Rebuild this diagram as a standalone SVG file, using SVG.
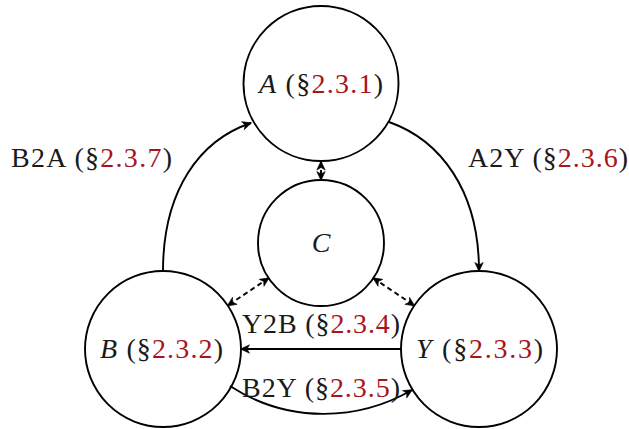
<svg xmlns="http://www.w3.org/2000/svg" width="629" height="429" viewBox="0 0 629 429">
<style>
.node{fill:none;stroke:#000;stroke-width:1.9}
.lbl{font-family:"Liberation Serif","Times New Roman",serif;font-size:28px;fill:#1a1a1a}
.v{font-style:italic}
.r{fill:#a8141c}
.edge{fill:none;stroke:#000;stroke-width:1.9}
.dash{stroke-dasharray:5,3.5}
</style>
<defs>
<marker id="arr" viewBox="-10 -6 11 12" refX="0" refY="0" markerWidth="11" markerHeight="12" markerUnits="userSpaceOnUse" orient="auto-start-reverse">
<path d="M0.5,0 L-8.5,-4.2 L-6,0 L-8.5,4.2 Z" fill="#000" stroke="#000" stroke-width="0.6" stroke-linejoin="round"/>
</marker>
</defs>
<g id="A"><circle class="node" cx="321" cy="83.5" r="77.5"/><text class="lbl" x="259" y="93" textLength="124" lengthAdjust="spacing"><tspan class="v">A</tspan> (§<tspan class="r">2.3.1</tspan>)</text></g>
<g id="C"><circle class="node" cx="321" cy="243" r="63"/><text class="lbl v" x="321" y="252" text-anchor="middle">C</text></g>
<g id="B"><circle class="node" cx="163" cy="349" r="78"/><text class="lbl" x="100" y="358" textLength="123" lengthAdjust="spacing"><tspan class="v">B</tspan> (§<tspan class="r">2.3.2</tspan>)</text></g>
<g id="Y"><circle class="node" cx="479" cy="349" r="78"/><text class="lbl" x="416" y="358" textLength="127" lengthAdjust="spacing"><tspan class="v">Y</tspan> (§<tspan class="r">2.3.3</tspan>)</text></g>
<g id="connectors">
<path class="edge" d="M163,271 C163,190 200,140 251,123" marker-end="url(#arr)"/>
<path class="edge" d="M389,122 C440,140 479,190 479,271" marker-end="url(#arr)"/>
<path class="edge" d="M401,349 L241,349" marker-end="url(#arr)"/>
<path class="edge" d="M230,386 C290,425 360,420 412,390" marker-end="url(#arr)"/>
<path class="edge dash" d="M268.7,278.1 L227.7,305.6" marker-start="url(#arr)" marker-end="url(#arr)"/>
<path class="edge dash" d="M373.3,278.1 L414.3,305.6" marker-start="url(#arr)" marker-end="url(#arr)"/>
<path class="edge dash" d="M321,161.5 L321,180" marker-start="url(#arr)" marker-end="url(#arr)"/>
<text class="lbl" x="11" y="167" textLength="161" lengthAdjust="spacing">B2A (§<tspan class="r">2.3.7</tspan>)</text>
<text class="lbl" x="468" y="167" textLength="160" lengthAdjust="spacing">A2Y (§<tspan class="r">2.3.6</tspan>)</text>
<text class="lbl" x="242" y="333" textLength="158" lengthAdjust="spacing">Y2B (§<tspan class="r">2.3.4</tspan>)</text>
<text class="lbl" x="242" y="397" textLength="158" lengthAdjust="spacing">B2Y (§<tspan class="r">2.3.5</tspan>)</text>
</g>
</svg>
